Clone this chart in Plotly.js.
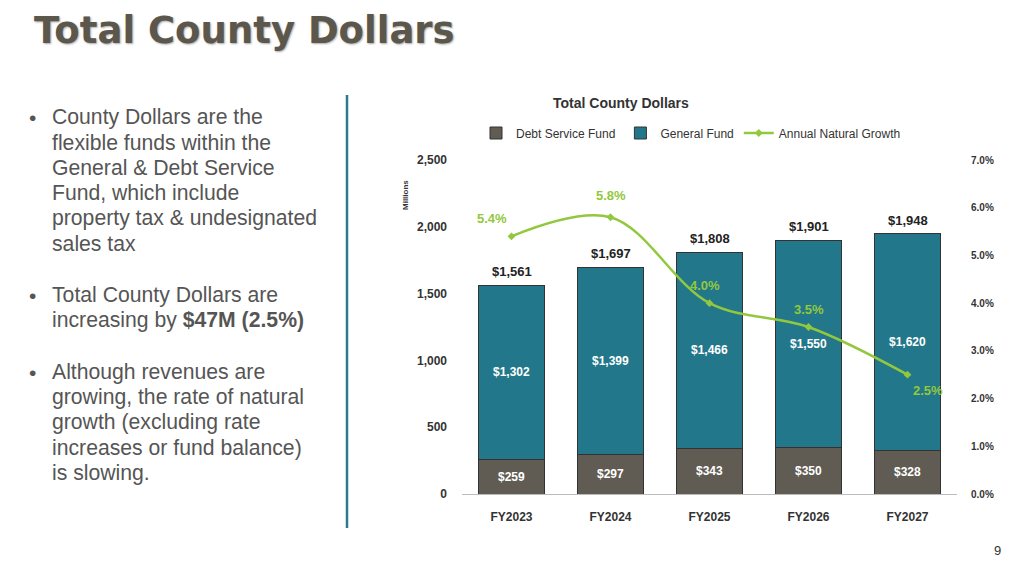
<!DOCTYPE html>
<html><head><meta charset="utf-8">
<script src="https://cdn.plot.ly/plotly-3.0.1.min.js"></script>
<style>body{margin:0;background:#fff}#c{width:1024px;height:576px}</style>
</head><body><div id="c"></div>
<script>
const years=["FY2023","FY2024","FY2025","FY2026","FY2027"];
const debt=[259,297,343,350,328];
const general=[1302,1399,1466,1550,1620];
const totals=[1561,1697,1808,1901,1948];
const growth=[5.4,5.8,4.0,3.5,2.5];
const growthLabelPos=[[-20,-18],[0,-22],[-5,-18],[0,-18],[20,16]];
const axFont={family:"Liberation Sans, Arial",size:12,color:"#333"};
const traces=[
 {type:"bar",name:"Debt Service Fund",x:years,y:debt,marker:{color:"#615c53",line:{color:"#333",width:1}},
  text:debt.map(v=>"<b>$"+v+"</b>"),textposition:"inside",insidetextanchor:"middle",textfont:{color:"#fff",size:12,family:"Liberation Sans, Arial"},hoverinfo:"none"},
 {type:"bar",name:"General Fund",x:years,y:general,marker:{color:"#23778a",line:{color:"#333",width:1}},
  text:general.map(v=>"<b>$"+v.toLocaleString("en-US")+"</b>"),textposition:"inside",insidetextanchor:"middle",textfont:{color:"#fff",size:12,family:"Liberation Sans, Arial"},hoverinfo:"none"},
 {type:"scatter",mode:"lines+markers",name:"Annual Natural Growth",x:years,y:growth,yaxis:"y2",line:{color:"#92c83e",width:2.5,shape:"spline"},marker:{color:"#92c83e",size:6,symbol:"diamond"}}
];
const ann=[];
years.forEach((y,i)=>{
 ann.push({x:y,y:totals[i],yref:"y",text:"<b>$"+totals[i].toLocaleString("en-US")+"</b>",showarrow:false,yanchor:"bottom",yshift:4,font:{family:"Liberation Sans, Arial",size:13,color:"#222"}});
 ann.push({x:y,y:growth[i],yref:"y2",text:"<b>"+growth[i].toFixed(1)+"%</b>",showarrow:false,xshift:growthLabelPos[i][0],yshift:-growthLabelPos[i][1],font:{family:"Liberation Sans, Arial",size:13,color:"#92c83e"}});
});
const bullets=[["County Dollars are the","flexible funds within the","General & Debt Service","Fund, which include","property tax & undesignated","sales tax"],
["Total County Dollars are","increasing by <b>$47M (2.5%)</b>"],
["Although revenues are","growing, the rate of natural","growth (excluding rate","increases or fund balance)","is slowing."]];
const bulletY=[117,295,372];
bullets.forEach((b,i)=>{
 ann.push({xref:"paper",yref:"paper",x:27/1024,y:1-bulletY[i]/576,xanchor:"left",yanchor:"middle",showarrow:false,text:"•",font:{family:"Liberation Sans, Arial",size:21,color:"#555"}});
 b.forEach((line,j)=>{
  ann.push({xref:"paper",yref:"paper",x:50/1024,y:1-(bulletY[i]+j*25.2)/576,xanchor:"left",yanchor:"middle",align:"left",showarrow:false,text:line,font:{family:"Liberation Sans, Arial",size:21.2,color:"#555"}});
 });
});
ann.push({xref:"paper",yref:"paper",x:32/1024,y:1-30/576,xanchor:"left",yanchor:"middle",showarrow:false,text:"<b>Total County Dollars</b>",font:{family:"DejaVu Sans",size:37,color:"#5b574d",shadow:"1px 1px 2px #aaa"}});
ann.push({xref:"paper",yref:"paper",x:691/1024,y:1-103/576,yanchor:"middle",showarrow:false,text:"<b>Total County Dollars</b>",font:{family:"Liberation Sans, Arial",size:14,color:"#333"}});
ann.push({xref:"paper",yref:"paper",x:405/1024,y:1-178/576,showarrow:false,textangle:-90,text:"<b>Millions</b>",font:{family:"Liberation Sans, Arial",size:8,color:"#333"}});
ann.push({xref:"paper",yref:"paper",x:1003/1024,y:1-560/576,showarrow:false,text:"9",font:{family:"Liberation Sans, Arial",size:13,color:"#333"}});
const layout={width:1024,height:576,margin:{l:0,r:0,t:0,b:0},paper_bgcolor:"#fff",plot_bgcolor:"#fff",
 barmode:"stack",bargap:0.33,showlegend:true,
 legend:{orientation:"h",x:691/1024,xanchor:"center",y:1-133/576,yanchor:"middle",font:{family:"Liberation Sans, Arial",size:12,color:"#333"},traceorder:"normal",itemwidth:30},
 xaxis:{domain:[462/1024,957/1024],tickfont:Object.assign({},axFont,{size:12}),showline:true,linecolor:"#bbb",ticks:"",ticklabelstandoff:12,tickprefix:"<b>",ticksuffix:"</b>"},
 yaxis:{domain:[82/576,416/576],range:[0,2500],dtick:500,tickformat:",",tickfont:axFont,showgrid:false,zeroline:false,tickprefix:"<b>",ticksuffix:"</b>",ticklabelstandoff:14},
 yaxis2:{overlaying:"y",side:"right",range:[0,7],dtick:1,tickformat:".1f",ticksuffix:"%</b>",tickprefix:"<b>",tickfont:Object.assign({},axFont,{size:10}),showgrid:false,zeroline:false,anchor:"x",ticklabelstandoff:13},
 annotations:ann,
 shapes:[{type:"line",xref:"paper",yref:"paper",x0:347/1024,x1:347/1024,y0:1-95/576,y1:1-528/576,line:{color:"#2a7a8c",width:2.5}}]
};
Plotly.newPlot("c",traces,layout,{displayModeBar:false});
</script></body></html>
